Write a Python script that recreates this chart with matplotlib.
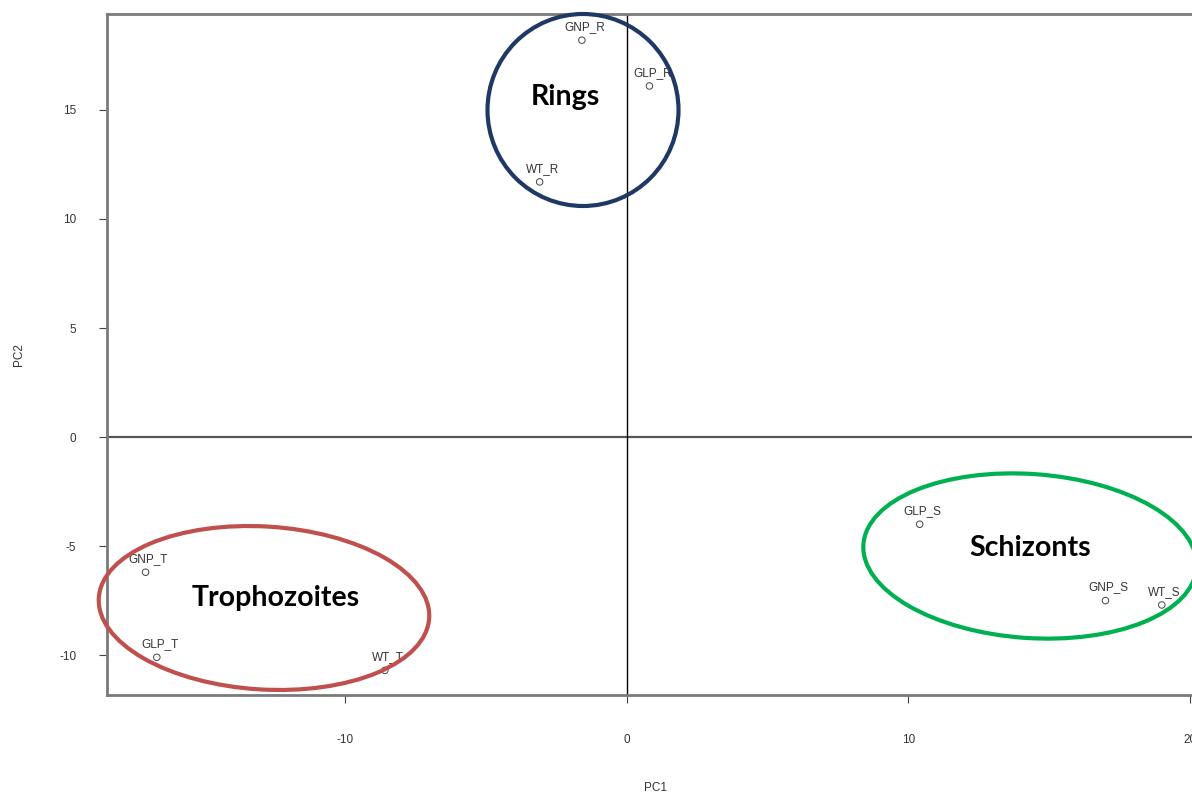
import matplotlib
matplotlib.use("Agg")
import matplotlib.pyplot as plt
from matplotlib.patches import Ellipse

plt.rcParams["axes.unicode_minus"] = False

# PCA scores
samples = ["GNP_R", "GLP_R", "WT_R", "GNP_T", "GLP_T", "WT_T", "GLP_S", "GNP_S", "WT_S"]
pc1 = [-1.6, 0.8, -3.1, -17.1, -16.7, -8.6, 10.4, 17.0, 19.0]
pc2 = [18.2, 16.1, 11.7, -6.2, -10.1, -10.7, -4.0, -7.5, -7.7]

# stage groups drawn on top (pixel centre, width, height, tilt)
groups = ["Rings", "Trophozoites", "Schizonts"]
group_colors = ["#203864", "#C0504D", "#00B050"]
group_ellipses = [(583, 110, 191, 192, 0), (264, 608, 331, 163, 3.5), (1030, 556, 334, 164, 4)]
group_text = [(565, 97), (276, 598), (1030, 548)]

fig = plt.figure(figsize=(11.92, 7.96), dpi=100)
# axes run past the right edge, like the cropped original
ax = fig.add_axes([107 / 1192, 101 / 796, 1097 / 1192, 681 / 796])

ax.axhline(0, color="#555555", lw=1.6, zorder=1)
ax.axvline(0, color="black", lw=1.0, zorder=1)

ax.scatter(pc1, pc2, s=22, facecolors="none", edgecolors="#444444", linewidths=0.7, zorder=3)
for name, x, y in zip(samples, pc1, pc2):
    ax.annotate(name, (x, y), xytext=(2, 9.5), textcoords="offset points",
                ha="center", va="center", fontsize=8.5, color="#333333",
                family="Liberation Sans")

ax.set_xlim(-18.47, 20.5)
ax.set_ylim(-11.83, 19.4)
ax.set_xticks([-10, 0, 10, 20])
ax.set_yticks([-10, -5, 0, 5, 10, 15])
for lab in ax.get_xticklabels() + ax.get_yticklabels():
    lab.set_family("Liberation Sans")
ax.tick_params(axis="x", length=6, width=0.8, color="#444444", pad=22, labelsize=8.5, labelcolor="#333333")
ax.tick_params(axis="y", length=6, width=0.8, color="#444444", pad=16, labelsize=8.5, labelcolor="#333333")
for s in ax.spines.values():
    s.set_color("#7a7a7a")
    s.set_linewidth(2.0)

ax.set_xlabel("PC1", fontsize=8.5, color="#333333", family="Liberation Sans", labelpad=26)
ax.set_ylabel("PC2", fontsize=8.5, color="#333333", family="Liberation Sans", labelpad=25)

# overlay in pixel coordinates for the hand drawn group ellipses
ov = fig.add_axes([0, 0, 1, 1], facecolor="none")
ov.set_xlim(0, 1192)
ov.set_ylim(796, 0)
ov.axis("off")
for name, col, (cx, cy, w, h, ang), (tx, ty) in zip(groups, group_colors, group_ellipses, group_text):
    ov.add_patch(Ellipse((cx, cy), w, h, angle=ang, fill=False, edgecolor=col, lw=3.0))
    ov.text(tx, ty, name, ha="center", va="center", fontsize=20.5, fontweight="bold",
            family="Lato", color="black")

fig.savefig("out.png", dpi=100)
